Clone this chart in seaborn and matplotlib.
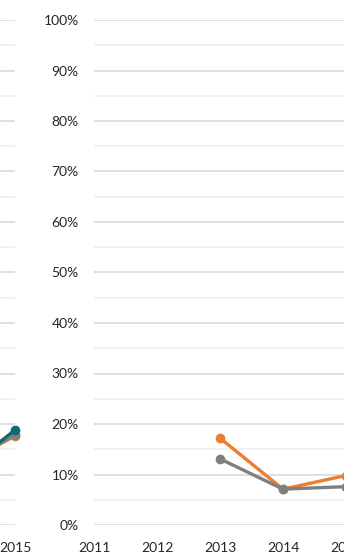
import pandas as pd
import matplotlib.pyplot as plt
import seaborn as sns
from matplotlib.ticker import MultipleLocator, FuncFormatter

# years on the category axis
years = [2011, 2012, 2013, 2014, 2015]

# left panel (only its right end is visible)
left_years = [2014, 2015]
left_green = [0.09, 0.188]
left_orange = [0.11, 0.176]
left_gray = [0.11, 0.178]

# right panel
right_years = [2013, 2014, 2015]
right_orange = [0.172, 0.071, 0.098]
right_gray = [0.131, 0.071, 0.076]

COLORS = {"green": "#0F6B6E", "orange": "#ED7D31", "gray": "#7F7F7F"}

sns.set_style("white")
plt.rcParams['font.family'] = ['Lato', 'DejaVu Sans']

W, H = 344, 554
fig = plt.figure(figsize=(W / 100, H / 100), dpi=100)

top_px, bottom_px = 20, 525
step = 63


def make_axes(x0_px, x1_px):
    return fig.add_axes([x0_px / W, (H - bottom_px) / H,
                         (x1_px - x0_px) / W, (bottom_px - top_px) / H])


def style_axes(ax, show_y=True):
    ax.set_ylim(0, 1)
    ax.set_xlim(years[0], years[-1])
    ax.set_xticks(years)
    ax.set_xticklabels([str(y) for y in years])
    ax.yaxis.set_major_locator(MultipleLocator(0.1))
    ax.yaxis.set_minor_locator(MultipleLocator(0.05))
    ax.yaxis.set_major_formatter(FuncFormatter(lambda v, p: f"{v:.0%}"))
    ax.grid(axis='y', which='major', color='#D9D9D9', linewidth=1.2)
    ax.grid(axis='y', which='minor', color='#EFEFEF', linewidth=1.2)
    ax.grid(axis='x', visible=False)
    ax.tick_params(axis='both', which='both', length=0, labelsize=10,
                   colors='#262626')
    ax.tick_params(axis='y', pad=11, labelleft=show_y)
    ax.tick_params(axis='x', pad=12)
    for s in ax.spines.values():
        s.set_visible(False)
    ax.set_xlabel('')
    ax.set_ylabel('')
    ax.set_axisbelow(True)


def draw(ax, xs, series):
    rows = []
    for name, vals in series:
        for x, v in zip(xs, vals):
            rows.append({"year": x, "value": v, "series": name})
    df = pd.DataFrame(rows)
    sns.lineplot(data=df, x="year", y="value", hue="series",
                 palette=COLORS, marker="o", markersize=7,
                 markeredgewidth=0, linewidth=2.4, legend=False,
                 ax=ax, clip_on=False)


ax_left = make_axes(15 - 4 * step, 15)
draw(ax_left, left_years, [("orange", left_orange), ("gray", left_gray),
                           ("green", left_green)])
style_axes(ax_left, show_y=False)

ax_right = make_axes(94, 94 + 4 * step)
draw(ax_right, right_years, [("orange", right_orange), ("gray", right_gray)])
style_axes(ax_right)

fig.savefig("out.png", dpi=100)
